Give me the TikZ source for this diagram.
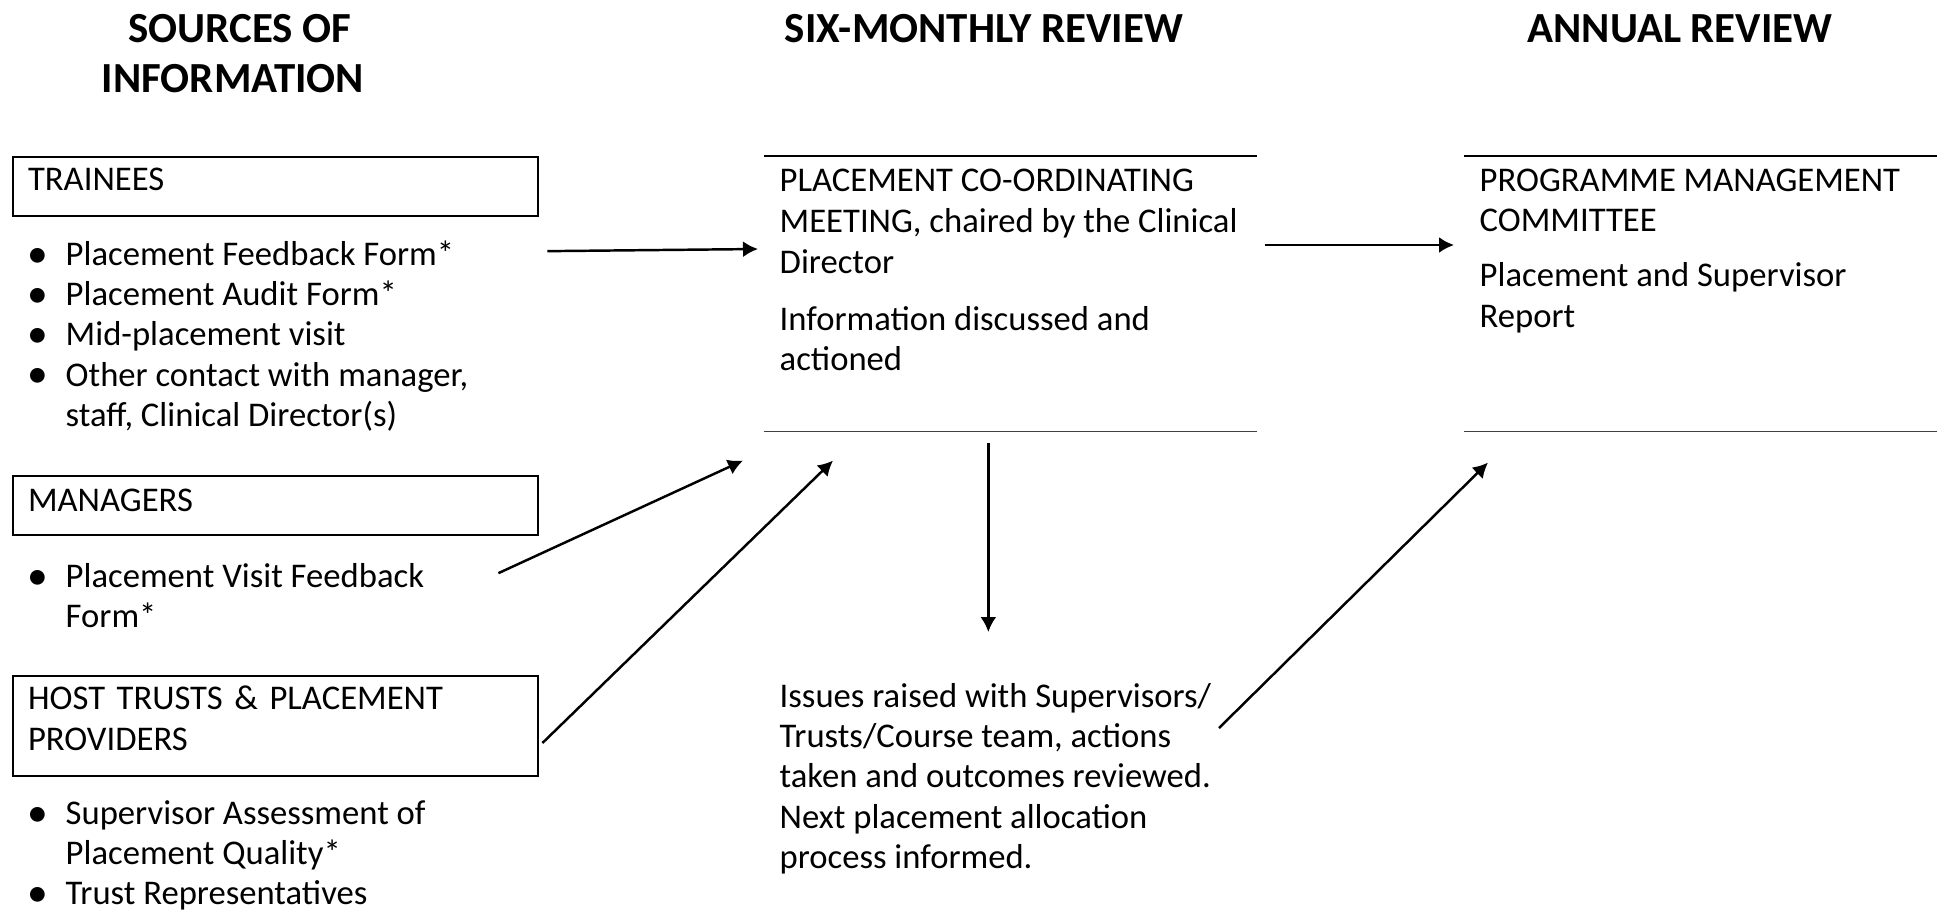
\documentclass[tikz,border=0pt]{standalone}
\usepackage{fontspec}
\usepackage{graphicx}
\setmainfont{Carlito}
\usetikzlibrary{arrows.meta,calc,positioning}
\tikzset{every picture/.style={
  >={Latex[length=0.15cm,width=0.16cm]}   % Solid triangular arrows.
  }
}
\newcommand{\bodyfont}{\fontsize{9.85}{11.4}\selectfont}
\newcommand{\headfont}{\fontsize{12.2}{14.2}\selectfont\bfseries}
\newcommand{\bul}{\makebox[0.37cm][l]{\makebox[0.18cm][c]{\raisebox{-0.015cm}{\scalebox{1.2}{\textbullet}}}}}
\newcommand{\cont}{\hspace*{0.37cm}}

\begin{document}
\begin{tikzpicture}[
      x=0.01cm, y=-0.01cm,
      head/.style={font=\headfont, align=center, inner sep=0pt, anchor=north},
      srcbox/.style={
        draw,
        line width=0.6pt,
        anchor=north west,
        minimum width=5.25cm,
        text width=4.95cm,
        inner xsep=0.15cm,
        inner ysep=0pt,
        text depth=#1,
        align=left,
        font=\bodyfont
      },
      txt/.style={font=\bodyfont, align=left, inner sep=0pt, anchor=north west},
      frame/.style={inner sep=0pt, anchor=north west},
      arr/.style={->, line width=0.7pt}]

      \useasboundingbox (0,0) rectangle (1939,914);

      % Column headings.
      \node[head] (hsrc) at (233,7) {\strut\hspace*{0.14cm}SOURCES OF\\INFORMATION};
      \node[head] (hsix) at (984,7) {\strut SIX-MONTHLY REVIEW};
      \node[head] (hann) at (1680,7) {\strut ANNUAL REVIEW};

      % Sources of information.
      \node[srcbox=0.15cm, minimum height=0.59cm] (trainees) at (12,156) {TRAINEES};
      \node[txt] (trlist) at (28,237) {\strut\bul Placement Feedback Form*\\
        \bul Placement Audit Form*\\\bul Mid-placement visit\\
        \bul Other contact with manager,\\\cont staff, Clinical Director(s)};

      \node[srcbox=0.11cm, minimum height=0.59cm] (managers) at (12,475) {MANAGERS};
      \node[txt] (mglist) at (28,559) {\strut\bul Placement Visit Feedback\\
        \cont Form*};

      \node[srcbox=0.56cm, minimum height=1.0cm] (host) at (12,675)
        {HOST TRUSTS \& PLACEMENT\\PROVIDERS};
      \node[txt] (hostlist) at (28,796) {\strut\bul Supervisor Assessment of\\
        \cont Placement Quality*\\\bul Trust Representatives};

      % Six-monthly review.
      \node[frame, minimum width=4.91cm, minimum height=2.74cm] (meet) at (764,156) {};
      \draw[line width=0.7pt] (meet.north west) -- (meet.north east);
      \draw[line width=0.5pt, black!75] (meet.south west) -- (meet.south east);
      \node[txt] (meettxt) at (779,163) {\strut PLACEMENT CO-ORDINATING\\[0.01cm]
        MEETING, chaired by the Clinical\\[0.01cm]Director\\[0.165cm]
        Information discussed and\\actioned};

      \node[txt] (issues) at (779,679) {\strut Issues raised with Supervisors/\\
        Trusts/Course team, actions\\taken and outcomes reviewed.\\
        Next placement allocation\\process informed.};

      % Annual review.
      \node[frame, minimum width=4.71cm, minimum height=2.74cm] (comm) at (1464,156) {};
      \draw[line width=0.7pt] (comm.north west) -- (comm.north east);
      \draw[line width=0.5pt, black!75] (comm.south west) -- (comm.south east);
      \node[txt] (commtxt) at (1479,163) {\strut PROGRAMME MANAGEMENT\\
        COMMITTEE\\[0.15cm]Placement and Supervisor\\Report};

      % Connectors.
      \draw[arr] ([shift={(8,34)}]trainees.south east) -- ([shift={(-6,93)}]meet.north west);
      \draw[arr] ([shift={(-41,37)}]managers.south east) -- ([shift={(-21,29)}]meet.south west);
      \draw[arr] ([shift={(3,68)}]host.north east) -- ([shift={(69,29)}]meet.south west);
      \draw[arr] ([shift={(-22,11)}]meet.south) -- ($(meet.south |- issues.north)+(-22,-47)$);
      \draw[arr] ([shift={(8,89)}]meet.north east) -- ([shift={(-10,89)}]comm.north west);
      \draw[arr] ([shift={(440,49)}]issues.north west) -- ([shift={(24,31)}]comm.south west);

    \end{tikzpicture}
\end{document}
